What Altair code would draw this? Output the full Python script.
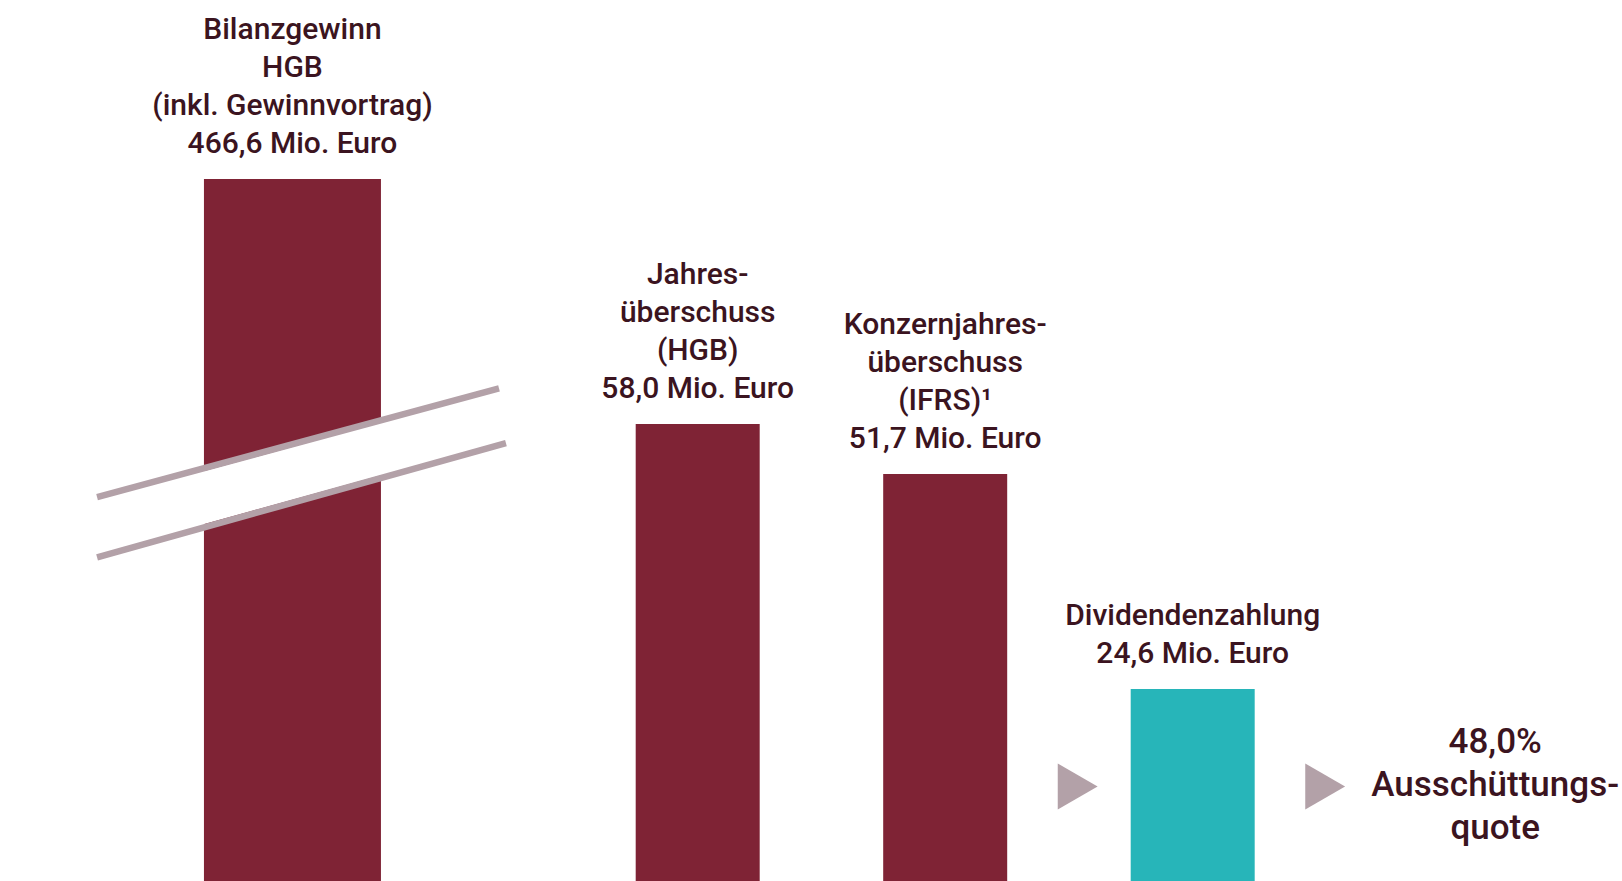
import altair as alt
import pandas as pd

# ---------------- data ----------------
categories = ["Bilanzgewinn", "Jahresüberschuss", "Konzernjahresüberschuss", "Dividendenzahlung"]
values = [466.6, 58.0, 51.7, 24.6]            # Mio. Euro
shown_values = [88.9, 58.0, 51.7, 24.6]       # first bar is drawn with a broken axis
groups = ["profit", "profit", "profit", "dividend"]
title_lines = [
    ["Bilanzgewinn", "HGB", "(inkl. Gewinnvortrag)"],
    ["Jahres-", "überschuss", "(HGB)"],
    ["Konzernjahres-", "überschuss", "(IFRS)\u00b9"],
    ["Dividendenzahlung"],
]
payout_category = "Ausschüttungsquote"
payout_ratio = 48.0
payout_lines = ["Ausschüttungs-", "quote"]

# axis-break decoration: ends given in category-index units (x) and value units (y)
break_kind = ["gap", "upper", "lower"]
break_x1 = [-1.427, -1.427, -1.427]
break_x2 = [0.211, 0.197, 0.225]
break_y1 = [45.0, 48.8, 41.2]
break_y2 = [59.1, 62.5, 55.6]


def fmt(v, suffix=" Mio. Euro"):
    return f"{v:.1f}".replace(".", ",") + suffix


label_rows = [lines + [fmt(v)] for lines, v in zip(title_lines, values)]
bars = pd.DataFrame({
    "category": categories,
    "value": values,
    "shown": shown_values,
    "group": groups,
    "label": ["\n".join(r) for r in label_rows],
    "nlines": [len(r) for r in label_rows],
})
arrow_y = values[3] / 2
arrows = pd.DataFrame({"category": [categories[3], payout_category], "y": [arrow_y, arrow_y]})
payout = pd.DataFrame({
    "category": [payout_category],
    "y": [arrow_y],
    "text": ["\n".join([fmt(payout_ratio, "%")] + payout_lines)],
})
breaks = pd.DataFrame({"kind": break_kind, "x1": break_x1, "x2": break_x2,
                       "y1": break_y1, "y2": break_y2})

# ---------------- styles ----------------
WINE = "#7f2335"
TEAL = "#27b5b9"
GREY = "#b3a1a8"
INK = "#3b1420"
FONT = "Roboto"
FS, LH = 30, 38

x_scale = alt.Scale(domain=categories + [payout_category], paddingInner=0,
                    paddingOuter=0.7768, align=0.849)
y_scale = alt.Scale(domain=[0.4, 111.45], nice=False, zero=False)
color_scale = alt.Scale(domain=["profit", "dividend"], range=[WINE, TEAL])

X = alt.X("category:N", scale=x_scale, axis=None)
Y = alt.Y("shown:Q", scale=y_scale, axis=None)
COLOR = alt.Color("group:N", scale=color_scale, legend=None)

base = alt.Chart(bars)
is_first = alt.datum.category == categories[0]
not_first = alt.datum.category != categories[0]

main_bars = base.transform_filter(not_first).mark_bar(size=124).encode(x=X, y=Y, color=COLOR)
first_bar = base.transform_filter(is_first).mark_bar(size=177, xOffset=-157.75).encode(
    x=X, y=Y, color=COLOR)


def label_layer(n, first):
    flt = is_first if first else not_first
    extra = {"xOffset": -157.75} if first else {}
    return base.transform_filter(flt).transform_filter(alt.datum.nlines == n).mark_text(
        font=FONT, fontSize=FS, fontWeight=500, lineHeight=LH, color=INK, align="center",
        baseline="bottom", dy=-20 - (n - 1) * LH, lineBreak="\n", **extra,
    ).encode(x=X, y=Y, text="label:N")


label_layers = [label_layer(len(label_rows[0]), True)]
for n in sorted(set(len(r) for r in label_rows[1:])):
    label_layers.append(label_layer(n, False))

arrow_marks = alt.Chart(arrows).mark_point(
    shape="triangle-right", filled=True, size=2116, color=GREY, opacity=1, xOffset=-115).encode(
    x=alt.X("category:N", scale=x_scale, axis=None),
    y=alt.Y("y:Q", scale=y_scale, axis=None),
)

payout_text = alt.Chart(payout).mark_text(
    font=FONT, fontSize=35, fontWeight=500, lineHeight=43, color=INK, align="center",
    baseline="middle", dx=55, dy=-45, lineBreak="\n").encode(
    x=alt.X("category:N", scale=x_scale, axis=None),
    y=alt.Y("y:Q", scale=y_scale, axis=None),
    text="text:N",
)

main = alt.layer(main_bars, first_bar, *label_layers, arrow_marks, payout_text)

# category index units: centre of category i sits at 450.25 + 247.5 * i px
bx_scale = alt.Scale(domain=[-1.8192, 4.7343], nice=False, zero=False)
bbase = alt.Chart(breaks).encode(
    x=alt.X("x1:Q", scale=bx_scale, axis=None), x2="x2:Q",
    y=alt.Y("y1:Q", scale=y_scale, axis=None), y2="y2:Q",
)
gap = bbase.transform_filter(alt.datum.kind == "gap").mark_rule(
    color="white", strokeWidth=51, strokeCap="butt")
upper = bbase.transform_filter(alt.datum.kind == "upper").mark_rule(
    color=GREY, strokeWidth=6.5, strokeCap="butt")
lower = bbase.transform_filter(alt.datum.kind == "lower").mark_rule(
    color=GREY, strokeWidth=6.5, strokeCap="butt")
brk = alt.layer(gap, upper, lower)

chart = alt.layer(main, brk).resolve_scale(x="independent").properties(
    width=1622, height=881, padding=0, background="white",
    autosize=alt.AutoSizeParams(type="none"),
).configure_view(stroke=None)

chart.save("out.html", embed_options={"renderer": "svg", "actions": False})
